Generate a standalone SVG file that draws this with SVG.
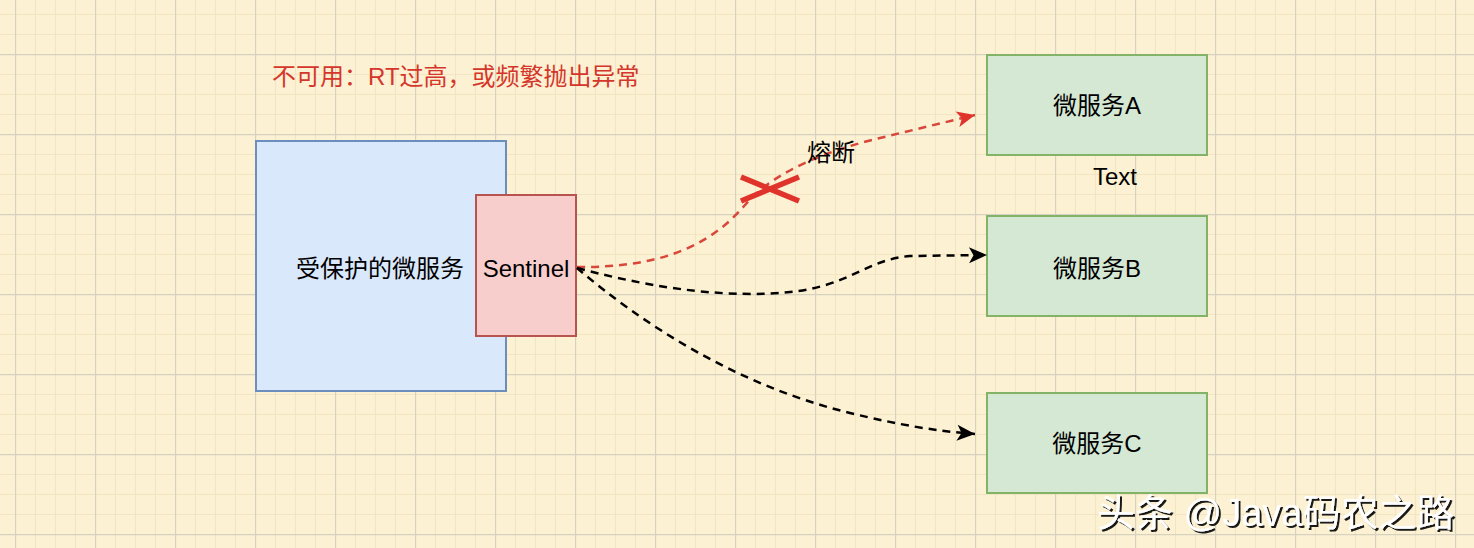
<svg xmlns="http://www.w3.org/2000/svg" width="1474" height="548" viewBox="0 0 1474 548">
  <defs>
    <pattern id="grid" patternUnits="userSpaceOnUse" x="15" y="54" width="80" height="80">
      <path d="M20.5,0 V80 M40.5,0 V80 M60.5,0 V80 M0,20.5 H80 M0,40.5 H80 M0,60.5 H80" stroke="#F3E5C2" stroke-width="1.2" fill="none"/>
      <path d="M0.5,0 V80 M0,0.5 H80" stroke="#D7D1C1" stroke-width="1.4" fill="none"/>
    </pattern>
    <marker id="arrRed" markerUnits="userSpaceOnUse" markerWidth="20" markerHeight="18" refX="18" refY="8" orient="auto" overflow="visible">
      <path d="M0,0 L18,8 L0,16 L4.5,8 Z" fill="#E0332B"/>
    </marker>
    <marker id="arrBlack" markerUnits="userSpaceOnUse" markerWidth="20" markerHeight="18" refX="18" refY="8" orient="auto" overflow="visible">
      <path d="M0,0 L18,8 L0,16 L4.5,8 Z" fill="#000000"/>
    </marker>
    <filter id="shadow" x="-5%" y="-20%" width="110%" height="140%">
      <feDropShadow dx="2" dy="2" stdDeviation="0.6" flood-color="#111" flood-opacity="0.95"/>
    </filter>
  </defs>
  <style>
    text { font-family: "Liberation Sans", "Noto Sans CJK SC", sans-serif; font-size: 24px; fill: #000; dominant-baseline: central; }
    .c { text-anchor: middle; }
    .svc { fill: #D5E8D4; stroke: #82B366; stroke-width: 2; }
    .edge { fill: none; stroke-width: 2.5; stroke-dasharray: 8 6; }
  </style>
  <rect x="0" y="0" width="1474" height="548" fill="#FCF1D2"/>
  <rect x="0" y="0" width="1474" height="548" fill="url(#grid)"/>

  <g id="title">
    <text x="272" y="76" style="fill:#D5362B">不可用：RT过高，或频繁抛出异常</text>
  </g>

  <g id="protected">
    <rect x="256" y="141" width="250" height="250" fill="#DAE8FC" stroke="#6C8EBF" stroke-width="2"/>
    <text x="380" y="268" class="c">受保护的微服务</text>
  </g>

  <g id="sentinel">
    <rect x="476" y="195" width="100" height="141" fill="#F8CECC" stroke="#B85450" stroke-width="2"/>
    <text x="526" y="268" class="c">Sentinel</text>
  </g>

  <g id="svcA">
    <rect x="987" y="55" width="220" height="100" class="svc"/>
    <text x="1097" y="105" class="c">微服务A</text>
  </g>
  <g id="svcB">
    <rect x="987" y="216" width="220" height="100" class="svc"/>
    <text x="1097" y="268" class="c">微服务B</text>
  </g>
  <g id="svcC">
    <rect x="987" y="393" width="220" height="100" class="svc"/>
    <text x="1097" y="443" class="c">微服务C</text>
  </g>

  <g id="textLabel">
    <text x="1115" y="176" class="c">Text</text>
  </g>

  <g id="connectors">
    <path class="edge" stroke="#D9463A" marker-end="url(#arrRed)" d="M577,267 C670,268 715,240 745,205 C775,170 830,150 880,138 L975,115"/>
    <path class="edge" stroke="#000" marker-end="url(#arrBlack)" d="M577,268 C660,290 730,298 790,292 C850,286 865,260 910,256 L987,255"/>
    <path class="edge" stroke="#000" marker-end="url(#arrBlack)" d="M577,268 C640,322 735,385 850,413 C900,425 935,431 975,434"/>
    <text x="831" y="152" class="c">熔断</text>
    <g id="cross" stroke="#E0332B" stroke-width="5.5">
      <line x1="741" y1="177" x2="799" y2="201"/>
      <line x1="741" y1="201" x2="799" y2="177"/>
    </g>
  </g>

  <g id="watermark">
    <text x="1097" y="513" style="fill:#FFFFFF;font-size:38px" filter="url(#shadow)">头条 @Java码农之路</text>
  </g>
</svg>
